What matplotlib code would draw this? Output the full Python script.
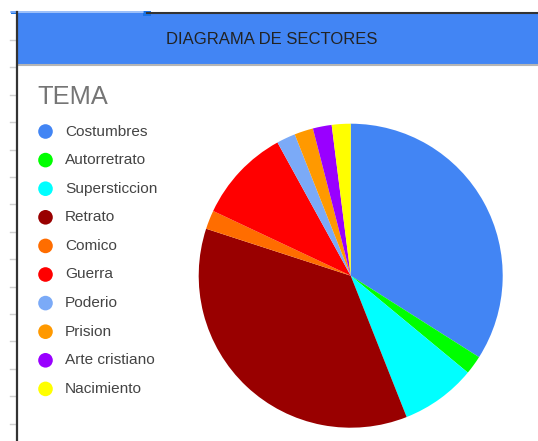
import matplotlib
matplotlib.use("Agg")
import matplotlib.pyplot as plt
from matplotlib.patches import Rectangle, Circle

categories = ["Costumbres", "Autorretrato", "Supersticcion", "Retrato", "Comico",
              "Guerra", "Poderio", "Prision", "Arte cristiano", "Nacimiento"]
values = [17, 1, 4, 18, 1, 5, 1, 1, 1, 1]
colors = ["#4285F4", "#00FF00", "#00FFFF", "#990000", "#FF6D00",
          "#FF0000", "#7BAAF7", "#FF9900", "#9900FF", "#FFFF00"]
title = "DIAGRAMA DE SECTORES"
legend_title = "TEMA"

W, H = 538, 441
plt.rcParams['font.family'] = ['Liberation Sans', 'DejaVu Sans']
fig = plt.figure(figsize=(W / 100, H / 100), dpi=100)
fig.patch.set_facecolor("white")

bg = fig.add_axes([0, 0, 1, 1])
bg.set_xlim(0, W)
bg.set_ylim(H, 0)
bg.axis("off")

# spreadsheet row ticks on the left
y = 40.0
while y < H:
    bg.plot([10, 16], [y, y], color="#d0d0d0", lw=1)
    y += 27.4

# header band
bg.add_patch(Rectangle((17, 13), W - 17, 51, facecolor="#4285F4", edgecolor="none"))
bg.plot([17, W], [65, 65], color="#b5b5b5", lw=1.5)
# top border and selection marks
bg.plot([147, W], [12.5, 12.5], color="#333333", lw=1.5)
bg.plot([11, 143], [12, 12], color="#8ab4f8", lw=1.2)
bg.add_patch(Rectangle((143, 10.5), 8, 5, facecolor="#1a73e8", edgecolor="none"))
bg.add_patch(Rectangle((11, 10.5), 5, 3, facecolor="#1a73e8", edgecolor="none"))
# left border
bg.plot([16.5, 16.5], [12, H], color="#333333", lw=1.6)

bg.text(272, 40, title, ha="center", va="center", fontsize=12, color="#222222")

# legend
bg.text(37, 97, legend_title, ha="left", va="center", fontsize=18.3, color="#757575")
y0, dy = 131.5, 28.6
for i, (lab, c) in enumerate(zip(categories, colors)):
    yy = y0 + i * dy
    bg.add_patch(Circle((45.5, yy), 7.3, facecolor=c, edgecolor="none"))
    bg.text(65, yy, lab, ha="left", va="center", fontsize=11.1, color="#444444")

# pie
cx, cy, r = 350.7, 275.7, 152
ax = fig.add_axes([(cx - r) / W, (H - cy - r) / H, 2 * r / W, 2 * r / H])
ax.pie(values, colors=colors, startangle=90, counterclock=False, radius=1,
       wedgeprops=dict(linewidth=0))
ax.set_xlim(-1, 1)
ax.set_ylim(-1, 1)
ax.set_aspect("auto")
ax.axis("off")

fig.savefig("out.png", dpi=100, facecolor="white")
